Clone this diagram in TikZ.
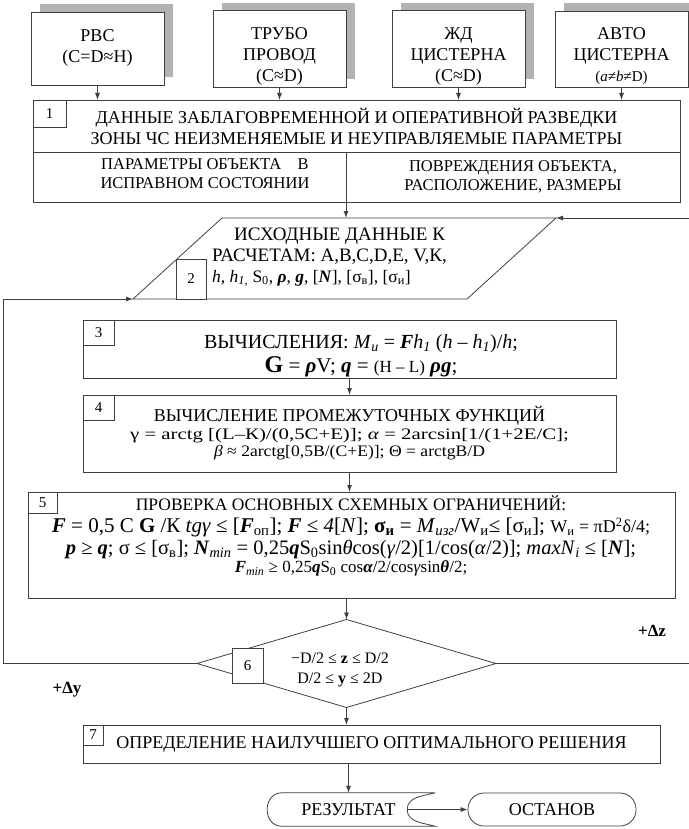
\documentclass[tikz,border=0pt]{standalone}
\usepackage{fontspec}
\setmainfont{Liberation Serif}
\usetikzlibrary{arrows.meta,shapes.geometric,shadows}
\newcommand{\bi}[1]{\textbf{\textit{#1}}}
\newcommand{\fs}[1]{\fontsize{#1}{#1}\selectfont}

\begin{document}
\begin{tikzpicture}[x=1pt, y=-1pt, font=\fontsize{18}{21}\selectfont,
    line/.style={draw=black!75, line width=0.8pt},
    box/.style={line, fill=white, align=center, inner sep=2pt, outer sep=0pt},
    origin/.style={box, minimum width=133pt, minimum height=72pt,
      general shadow={fill=black!30, shadow xshift=9pt, shadow yshift=8pt}},
    numbox/.style={box, anchor=north west, inner sep=0pt, font=\fontsize{15}{15}\selectfont},
    arr/.style={line, -{Latex[length=7pt, width=5pt]}}]
      \useasboundingbox (0,0) rectangle (688,829);

      \node[origin] (rvs) at (97.5,49) {\rule{0pt}{27pt}РВС\\(C=D≈H)\\\mbox{}};
      \node[origin] (pipe) at (279.5,49) {\rule{0pt}{27pt}ТРУБО\\ПРОВОД\\(C≈D)};
      \node[origin] (rail) at (458.5,49) {\rule{0pt}{27pt}ЖД\\ЦИСТЕРНА\\(C≈D)};
      \node[origin] (autotank) at (621.5,49) {\rule{0pt}{27pt}АВТО\\ЦИСТЕРНА\\{\fs{15}(\textit{a}≠\textit{b}≠D)}};

      \node[box, minimum width=647pt, minimum height=52pt] (data) at (356.5,126)
        {ДАННЫЕ ЗАБЛАГОВРЕМЕННОЙ И ОПЕРАТИВНОЙ РАЗВЕДКИ\\ЗОНЫ ЧС НЕИЗМЕНЯЕМЫЕ И НЕУПРАВЛЯЕМЫЕ ПАРАМЕТРЫ};
      \node[numbox, minimum width=33pt, minimum height=27pt] (n1) at (data.north west) {1};
      \node[box, minimum width=313pt, minimum height=50pt] (objok) at (189.5,177) {};
      \node[align=center, inner sep=0pt, font=\fontsize{16.5}{19}\selectfont] (objoktxt) at (205,174)
        {ПАРАМЕТРЫ ОБЪЕКТА\quad В\\ИСПРАВНОМ СОСТОЯНИИ};
      \node[box, minimum width=334pt, minimum height=50pt, font=\fontsize{16.5}{19}\selectfont] (objdmg) at (513,177)
        {ПОВРЕЖДЕНИЯ ОБЪЕКТА,\\РАСПОЛОЖЕНИЕ, РАЗМЕРЫ};
      \foreach \s in {rvs,pipe,rail,autotank}
        \draw[arr] (\s.south) -- (\s.south |- data.north);

      \coordinate (initbl) at (133,299);
      \coordinate (inittl) at (222,218);
      \coordinate (inittr) at (556,218);
      \coordinate (initbr) at (467,299);
      \draw[line] (initbl) -- (inittl) -- (inittr) -- (initbr) -- cycle;
      \node[anchor=west, align=left, inner sep=0pt, font=\fontsize{19}{21}\selectfont] (inittxt) at (212,257)
        {\hspace*{22pt}ИСХОДНЫЕ ДАННЫЕ К\\РАСЧЕТАМ: А,В,С,D,E, V,К,\\
         {\fs{17.5}\textit{h}, \textit{h}\textsubscript{\textit{1},} S\textsubscript{0}, \bi{ρ}, \bi{g}, [\bi{N}], [σ\textsubscript{в}], [σ\textsubscript{и}]}};
      \node[numbox, minimum width=30pt, minimum height=40pt] (n2) at (176,259) {2};
      \draw[arr] (objok.south east) -- (objok.south east |- inittl);

      \node[box, minimum width=533pt, minimum height=58pt] (calc) at (349.5,349) {};
      \node[align=center, inner sep=0pt] (calctxt) at (361,356)
        {{\fs{20}ВЫЧИСЛЕНИЯ: \textit{M}\textsubscript{\textit{и}} = \bi{F}\textit{h}\textsubscript{\textit{1}} (\textit{h} – \textit{h}\textsubscript{\textit{1}})/\textit{h};}\\[3pt]
         {\fs{21}{\fs{24}\textbf{G}} = \bi{ρ}V; \bi{q} = {\fs{17}(H – L)} \bi{ρg};}};
      \node[numbox, minimum width=31pt, minimum height=25pt] (n3) at (calc.north west) {3};

      \node[box, minimum width=533pt, minimum height=77pt] (func) at (349.5,433.5)
        {ВЫЧИСЛЕНИЕ ПРОМЕЖУТОЧНЫХ ФУНКЦИЙ\\[-3pt]
         {\fs{16}\scalebox{1.3}[1]{γ = arctg [(L–К)/(0,5C+E)]; \textit{α} = 2arcsin[1/(1+2E/C];}}\\[-4pt]
         {\fs{16}\scalebox{1.1}[1]{\textit{β} ≈ 2arctg[0,5B/(C+E)]; Θ = arctgB/D}}};
      \node[numbox, minimum width=31pt, minimum height=25pt] (n4) at (func.north west) {4};
      \draw[arr] (calc.south) -- (func.north);

      \node[box, minimum width=647pt, minimum height=106pt] (lim) at (351.5,545) {};
      \node[align=center, inner sep=0pt, font=\fontsize{17.5}{22}\selectfont] (limtxt) at (351,536)
        {ПРОВЕРКА ОСНОВНЫХ СХЕМНЫХ ОГРАНИЧЕНИЙ:\\
         {\fs{21}\bi{F} = 0,5 C \textbf{G} /К \textit{tgγ} ≤ [\bi{F}\textsubscript{оп}]; \bi{F} ≤ \textit{4}[\textit{N}]; \textbf{σ\textsubscript{и}} = \textit{M}\textsubscript{\textit{изг}}/W\textsubscript{и}≤ [σ\textsubscript{и}]; {\fs{18}W\textsubscript{и} = πD\textsuperscript{2}δ/4;}}\\
         {\fs{20.5}\bi{p} ≥ \bi{q}; σ ≤ [σ\textsubscript{в}]; \bi{N}\textsubscript{\textit{min}} = 0,25\bi{q}S\textsubscript{0}sin\textit{θ}cos(\textit{γ}/2)[1/cos(\textit{α}/2)]; \textit{maxN}\textsubscript{\textit{i}} ≤ [\bi{N}];}\\[-4pt]
         {\fs{17}\bi{F}\textsubscript{\textit{min}} ≥ 0,25\bi{q}S\textsubscript{0} cos\bi{α}/2/cos\textit{γ}sin\bi{θ}/2;}};
      \node[numbox, minimum width=29pt, minimum height=21pt] (n5) at (lim.north west) {5};
      \draw[arr] (func.south) -- (func.south |- lim.north);

      \node[diamond, line, minimum width=299pt, minimum height=88pt, inner sep=0pt, outer sep=0pt] (chk) at (346.5,663.5) {};
      \node[numbox, minimum width=31pt, minimum height=35pt] (n6) at (232,648) {6};
      \node[align=center, inner sep=0pt, font=\fontsize{16}{20}\selectfont] (chktxt) at (340,670)
        {−D/2 ≤ \textbf{z} ≤ D/2\\D/2 ≤ \textbf{y} ≤ 2D};
      \draw[arr] (lim.south -| chk.north) -- (chk.north);
      \draw[arr] (chk.east) -- (692,663.5) |- (inittr);
      \draw[arr] (chk.west) -- (3,663.5) |- (initbl);
      \node[font=\fontsize{17}{20}\selectfont\bfseries] (dz) at (652,631) {+Δz};
      \node[font=\fontsize{17}{20}\selectfont\bfseries] (dy) at (67,690) {+Δy};

      \node[box, minimum width=577pt, minimum height=38pt] (best) at (371.5,744)
        {ОПРЕДЕЛЕНИЕ НАИЛУЧШЕГО ОПТИМАЛЬНОГО РЕШЕНИЯ};
      \node[numbox, minimum width=20pt, minimum height=20pt] (n7) at (best.north west) {7};
      \draw[arr] (chk.south) -- (chk.south |- best.north);

      \node[minimum width=173pt, minimum height=33pt, inner sep=0pt] (res) at (348.5,809.5) {РЕЗУЛЬТАТ};
      \coordinate (rescave) at ([xshift=-28pt]res.east);
      \draw[line] (res.north east) -- ([xshift=20pt]res.north west)
        to[out=180, in=180, looseness=1.5] ([xshift=20pt]res.south west) -- (res.south east)
        to[out=165, in=-90] (rescave) to[out=90, in=-165] (res.north east);
      \node[line, rounded corners=16pt, minimum width=168pt, minimum height=33pt] (ost) at (552,809.5) {ОСТАНОВ};
      \draw[arr] (best.south -| res.north) -- (res.north);
      \draw[arr] (rescave) -- (ost.west);
\end{tikzpicture}
\end{document}
